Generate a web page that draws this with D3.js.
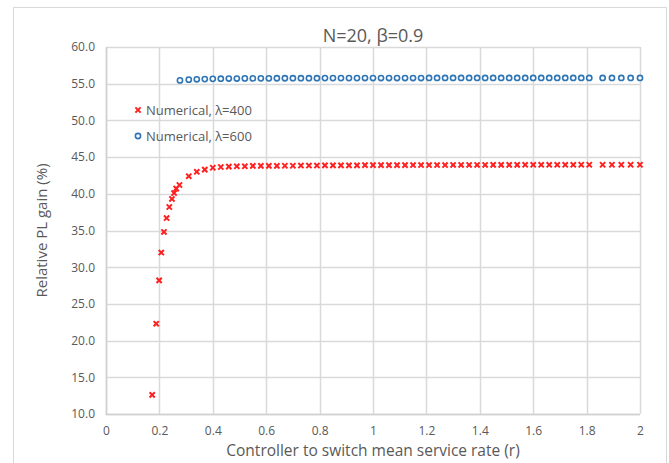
<!DOCTYPE html>
<meta charset="utf-8">
<script src="https://d3js.org/d3.v7.min.js"></script>
<style>
  body { margin: 0; background: #fff; }
  text { font-family: "Open Sans", sans-serif; fill: #595959; }
</style>
<div id="chart"></div>
<script>
// data
var r400 = [0.173, 0.188, 0.199, 0.207, 0.217, 0.227, 0.237, 0.247, 0.255, 0.263, 0.275,
  0.31, 0.34, 0.37, 0.40, 0.43, 0.46, 0.49, 0.52, 0.55, 0.58, 0.61, 0.64, 0.67, 0.70,
  0.73, 0.76, 0.79, 0.82, 0.85, 0.88, 0.91, 0.94, 0.97, 1.00, 1.03, 1.06, 1.09, 1.12,
  1.15, 1.18, 1.21, 1.24, 1.27, 1.30, 1.33, 1.36, 1.39, 1.42, 1.45, 1.48, 1.51, 1.54,
  1.57, 1.60, 1.63, 1.66, 1.69, 1.72, 1.75, 1.78, 1.81, 1.86, 1.895, 1.93, 1.965, 2.00];
var gain400 = [12.6, 22.3, 28.2, 32.0, 34.8, 36.7, 38.2, 39.3, 40.1, 40.7, 41.2,
  42.4, 43.0, 43.3, 43.55, 43.65, 43.7, 43.75, 43.75, 43.8, 43.8, 43.8, 43.8, 43.82, 43.82,
  43.85, 43.85, 43.85, 43.87, 43.87, 43.88, 43.88, 43.88, 43.9, 43.9, 43.9, 43.9, 43.9, 43.9,
  43.92, 43.92, 43.92, 43.92, 43.92, 43.93, 43.93, 43.93, 43.93, 43.93, 43.94, 43.94, 43.94, 43.94,
  43.95, 43.95, 43.95, 43.95, 43.95, 43.95, 43.95, 43.96, 43.96, 43.96, 43.96, 43.96, 43.96, 43.96];

var r600 = [0.277, 0.31, 0.34, 0.37, 0.40, 0.43, 0.46, 0.49, 0.52, 0.55, 0.58, 0.61, 0.64,
  0.67, 0.70, 0.73, 0.76, 0.79, 0.82, 0.85, 0.88, 0.91, 0.94, 0.97, 1.00, 1.03, 1.06, 1.09,
  1.12, 1.15, 1.18, 1.21, 1.24, 1.27, 1.30, 1.33, 1.36, 1.39, 1.42, 1.45, 1.48, 1.51, 1.54,
  1.57, 1.60, 1.63, 1.66, 1.69, 1.72, 1.75, 1.78, 1.81, 1.86, 1.895, 1.93, 1.965, 2.00];
var gain600 = [55.45, 55.55, 55.6, 55.63, 55.66, 55.68, 55.7, 55.7, 55.72, 55.72, 55.73, 55.73, 55.74,
  55.74, 55.75, 55.75, 55.75, 55.75, 55.76, 55.76, 55.76, 55.76, 55.76, 55.77, 55.77, 55.77, 55.77, 55.77,
  55.77, 55.77, 55.77, 55.78, 55.78, 55.78, 55.78, 55.78, 55.78, 55.78, 55.78, 55.78, 55.78, 55.78, 55.78,
  55.78, 55.78, 55.78, 55.78, 55.78, 55.78, 55.78, 55.78, 55.78, 55.78, 55.78, 55.78, 55.78, 55.78];

var xTicks = [0, 0.2, 0.4, 0.6, 0.8, 1, 1.2, 1.4, 1.6, 1.8, 2];
var yTicks = [10, 15, 20, 25, 30, 35, 40, 45, 50, 55, 60];

var width = 669, height = 463;
var margin = {left: 106, right: 29, top: 47, bottom: 49};

var svg = d3.select("#chart").append("svg")
  .attr("width", width).attr("height", height);

// chart frame
svg.append("rect")
  .attr("x", 13.5).attr("y", 7.5).attr("width", 653).attr("height", 460)
  .attr("fill", "none").attr("stroke", "#d9d9d9");

var x = d3.scaleLinear().domain([0, 2]).range([margin.left, width - margin.right]);
var y = d3.scaleLinear().domain([10, 60]).range([height - margin.bottom, margin.top]);

// gridlines
svg.append("g").selectAll("line").data(yTicks).enter().append("line")
  .attr("x1", x(0)).attr("x2", x(2))
  .attr("y1", function(d) { return Math.round(y(d)) + 0.5; })
  .attr("y2", function(d) { return Math.round(y(d)) + 0.5; })
  .attr("stroke", "#d9d9d9").attr("stroke-width", 1.5);
svg.append("g").selectAll("line").data(xTicks).enter().append("line")
  .attr("y1", y(10)).attr("y2", y(60))
  .attr("x1", function(d) { return Math.round(x(d)) + 0.5; })
  .attr("x2", function(d) { return Math.round(x(d)) + 0.5; })
  .attr("stroke", "#d9d9d9").attr("stroke-width", 1.5);

// axes (labels only, Excel style)
var xAxis = svg.append("g")
  .attr("transform", "translate(0," + y(10) + ")")
  .call(d3.axisBottom(x).tickValues(xTicks).tickSize(0).tickPadding(12).tickFormat(d3.format("")));
var yAxis = svg.append("g")
  .attr("transform", "translate(" + x(0) + ",0)")
  .call(d3.axisLeft(y).tickValues(yTicks).tickSize(0).tickPadding(11).tickFormat(d3.format(".1f")));
[xAxis, yAxis].forEach(function(a) {
  a.select(".domain").remove();
  a.selectAll("text").style("font-size", "12px").attr("fill", "#595959")
    .style("font-family", "'Open Sans', sans-serif");
});
svg.append("line")
  .attr("x1", x(0) - 0.5).attr("x2", x(2)).attr("y1", y(10) + 0.5).attr("y2", y(10) + 0.5)
  .attr("stroke", "#d0d0d0").attr("stroke-width", 1.5);
svg.append("line")
  .attr("x1", x(0) + 0.5).attr("x2", x(0) + 0.5).attr("y1", y(60)).attr("y2", y(10))
  .attr("stroke", "#d0d0d0").attr("stroke-width", 1.5);

// title and axis titles
svg.append("text").attr("x", (x(0) + x(2)) / 2).attr("y", 42)
  .attr("text-anchor", "middle").style("font-size", "18px").text("N=20, β=0.9");
svg.append("text").attr("x", (x(0) + x(2)) / 2).attr("y", 456)
  .attr("text-anchor", "middle").style("font-size", "15.5px")
  .text("Controller to switch mean service rate (r)");
svg.append("text")
  .attr("transform", "translate(47," + (y(10) + y(60)) / 2 + ") rotate(-90)")
  .attr("text-anchor", "middle").style("font-size", "15px").text("Relative PL gain (%)");

// red crosses
var cross = "M-2.6,-2.6L2.6,2.6M-2.6,2.6L2.6,-2.6";
svg.append("g").selectAll("path").data(r400).enter().append("path")
  .attr("transform", function(d, i) { return "translate(" + x(d) + "," + y(gain400[i]) + ")"; })
  .attr("d", cross).attr("stroke", "#ff1f1f").attr("stroke-width", 2).attr("fill", "none");

// blue circles
svg.append("g").selectAll("circle").data(r600).enter().append("circle")
  .attr("cx", function(d) { return x(d); })
  .attr("cy", function(d, i) { return y(gain600[i]); })
  .attr("r", 2.6).attr("fill", "#fff").attr("stroke", "#2e75b6").attr("stroke-width", 1.6);

// legend
var legend = svg.append("g");
legend.append("path").attr("transform", "translate(138,110)")
  .attr("d", cross).attr("stroke", "#ff1f1f").attr("stroke-width", 2);
legend.append("text").attr("x", 146).attr("y", 114.5).style("font-size", "13px").text("Numerical, λ=400");
legend.append("circle").attr("cx", 138).attr("cy", 136).attr("r", 2.6)
  .attr("fill", "#fff").attr("stroke", "#2e75b6").attr("stroke-width", 1.6);
legend.append("text").attr("x", 146).attr("y", 140.5).style("font-size", "13px").text("Numerical, λ=600");
</script>
